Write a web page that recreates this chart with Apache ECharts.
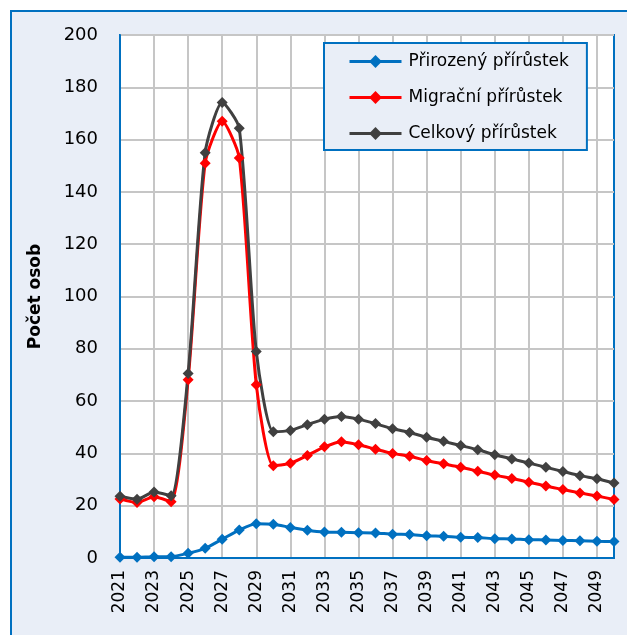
<!DOCTYPE html>
<html>
<head>
<meta charset="utf-8">
<script src="https://cdn.jsdelivr.net/npm/echarts@6/dist/echarts.min.js"></script>
<style>
  html, body { margin: 0; padding: 0; background: #fff; }
  #chart { width: 627px; height: 635px; }
</style>
</head>
<body>
<div id="chart"></div>
<script>
  // roky
  const years = [];
  for (let y = 2021; y <= 2050; y++) years.push(String(y));

  const prirozeny = [0.3, 0.3, 0.5, 0.5, 1.8, 3.7, 7.2, 10.7, 13.1, 12.9,
    11.7, 10.6, 9.9, 9.8, 9.7, 9.6, 9.1, 9.0, 8.5, 8.3,
    7.9, 7.8, 7.4, 7.3, 7.0, 6.9, 6.7, 6.6, 6.4, 6.3];
  const migracni = [22.6, 21.2, 23.4, 21.5, 68.2, 151, 167, 153, 66.3, 35.3,
    36.2, 39.2, 42.5, 44.5, 43.3, 41.6, 40.0, 38.9, 37.3, 36.0,
    34.7, 33.2, 31.7, 30.4, 29.0, 27.5, 26.2, 24.9, 23.7, 22.4];
  const celkovy = [23.6, 22.5, 25.2, 23.8, 70.6, 155, 174.2, 164.3, 79.0, 48.3,
    48.8, 51.0, 53.1, 54.1, 53.1, 51.4, 49.4, 48.0, 46.2, 44.6,
    43.0, 41.4, 39.5, 37.9, 36.3, 34.7, 33.1, 31.5, 30.3, 28.7];

  const yTicks = { min: 0, max: 200, step: 20 };

  const chart = echarts.init(document.getElementById("chart"));
  const font = "DejaVu Sans";

  function line(name, data, color) {
    return {
      name: name,
      type: "line",
      data: data,
      smooth: 0.22,
      symbol: "diamond",
      symbolSize: 11,
      showAllSymbol: true,
      lineStyle: { color: color, width: 3 },
      itemStyle: { color: color },
      z: 3
    };
  }

  const option = {
    animation: false,
    backgroundColor: "#fff",
    graphic: [{
      type: "rect",
      z: -10,
      shape: { x: 11, y: 11, width: 700, height: 700 },
      style: { fill: "#e9eef7", stroke: "#0070c0", lineWidth: 2 }
    }],
    textStyle: { fontFamily: font },
    grid: {
      left: 120, top: 35, width: 494, height: 523,
      show: true, backgroundColor: "#fff",
      borderColor: "#0070c0", borderWidth: 2
    },
    legend: {
      orient: "vertical",
      left: 324, top: 43,
      padding: [10, 18, 8, 24],
      itemWidth: 52, itemHeight: 16, itemGap: 19,
      backgroundColor: "#e9eef7",
      borderColor: "#0070c0", borderWidth: 2,
      lineStyle: { width: 3 },
      textStyle: { fontFamily: font, fontSize: 17, color: "#000", padding: [0, 0, 0, 2] },
      data: ["Přirozený přírůstek", "Migrační přírůstek", "Celkový přírůstek"]
    },
    xAxis: {
      type: "category",
      data: years,
      boundaryGap: false,
      axisLine: { lineStyle: { color: "#0070c0", width: 2 } },
      axisTick: { show: false },
      axisLabel: {
        interval: 1, rotate: 90, margin: 12,
        fontFamily: font, fontSize: 17, color: "#000"
      },
      splitLine: { show: true, interval: 1, lineStyle: { color: "#c6c6c6", width: 2 } }
    },
    yAxis: {
      type: "value",
      min: yTicks.min, max: yTicks.max, interval: yTicks.step,
      name: "Počet osob",
      nameLocation: "middle",
      nameRotate: 90,
      nameGap: 76,
      nameTextStyle: { fontFamily: font, fontSize: 17, fontWeight: "bold", color: "#000" },
      axisLine: { show: true, lineStyle: { color: "#0070c0", width: 2 } },
      axisTick: { show: false },
      axisLabel: { margin: 22, fontFamily: font, fontSize: 18, color: "#000" },
      splitLine: { lineStyle: { color: "#c6c6c6", width: 2 } }
    },
    series: [
      line("Přirozený přírůstek", prirozeny, "#0070c0"),
      line("Migrační přírůstek", migracni, "#ff0000"),
      line("Celkový přírůstek", celkovy, "#404040")
    ]
  };

  chart.setOption(option);
</script>
</body>
</html>
